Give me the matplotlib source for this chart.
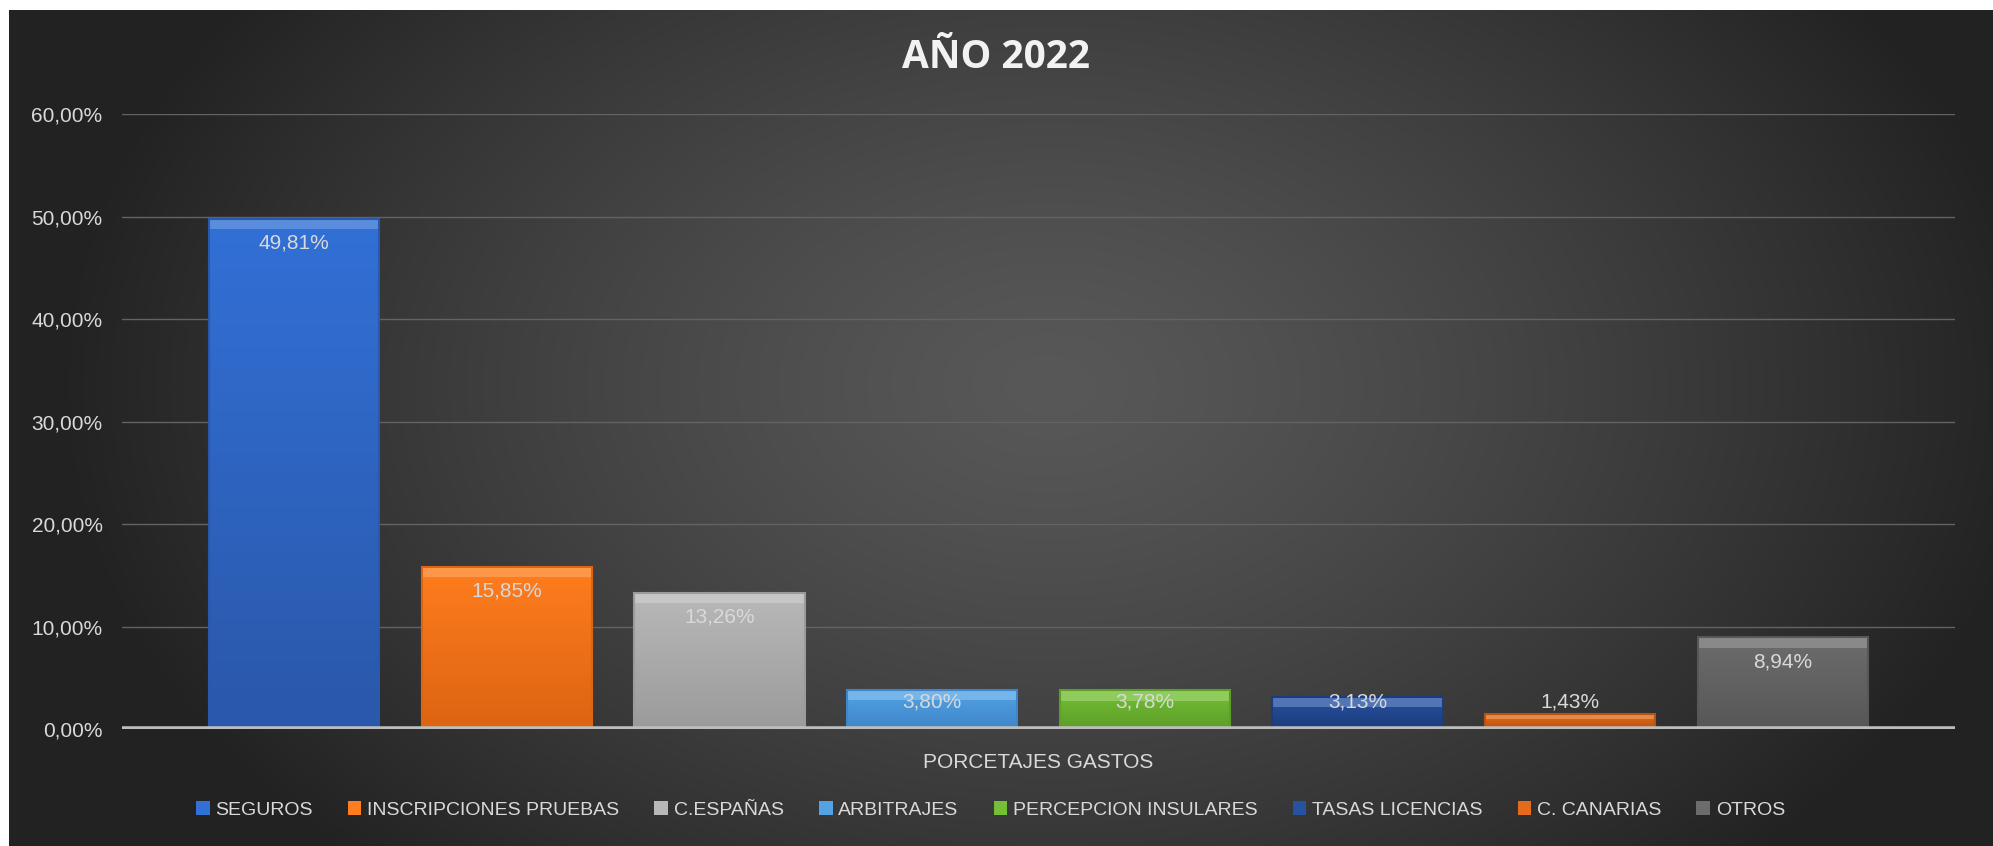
import numpy as np
import matplotlib
matplotlib.use("Agg")
import matplotlib.pyplot as plt

categorias = ["SEGUROS", "INSCRIPCIONES PRUEBAS", "C.ESPAÑAS", "ARBITRAJES",
              "PERCEPCION INSULARES", "TASAS LICENCIAS", "C. CANARIAS", "OTROS"]
valores = [49.81, 15.85, 13.26, 3.80, 3.78, 3.13, 1.43, 8.94]
etiquetas = ["49,81%", "15,85%", "13,26%", "3,80%", "3,78%", "3,13%", "1,43%", "8,94%"]
ticks_y = [0, 10, 20, 30, 40, 50, 60]
ticks_y_txt = ["0,00%", "10,00%", "20,00%", "30,00%", "40,00%", "50,00%", "60,00%"]

# (top, bottom) colours for every bar
colores_top = ["#3270d6", "#ff7d1e", "#b8b8b8", "#52a2e4", "#74bf35", "#2752a2", "#e36b1b", "#6c6c6c"]
colores_bot = ["#2a58aa", "#dc6412", "#9b9b9b", "#3e86c9", "#5d9e29", "#1c3c7c", "#b8520e", "#575757"]

plt.rcParams['font.family'] = ['Liberation Sans', 'DejaVu Sans']
texto = "#d9d9d9"


def aclarar(c, f):
    rgb = np.array(matplotlib.colors.to_rgb(c))
    return tuple(rgb + (1 - rgb) * f)


def main():
    fig = plt.figure(figsize=(19.93, 8.46), dpi=100, facecolor="white")

    # dark background with soft light in the centre
    bg = fig.add_axes([9 / 1993, 0, 1 - 9 / 1993, 836 / 846])
    xx, yy = np.meshgrid(np.linspace(-1, 1, 400), np.linspace(-1, 1, 200))
    r = np.sqrt(((xx - 0.05) / 1.0) ** 2 + ((yy + 0.1) / 1.6) ** 2)
    r = np.clip(r, 0, 1)
    lum = 0.345 - 0.21 * r ** 1.3
    img = np.dstack([lum, lum, lum])
    bg.imshow(img, aspect="auto", extent=[0, 1, 0, 1], interpolation="bilinear")
    bg.axis("off")

    ax = fig.add_axes([0.0612, 0.1383, 0.9198, 0.7264])
    ax.patch.set_alpha(0)
    x = np.arange(len(valores))
    ancho = 0.80
    barras = ax.bar(x, valores, width=ancho, color=colores_top, edgecolor="none", zorder=3)

    for i, b in enumerate(barras):
        v = valores[i]
        grad = np.linspace(0, 1, 50)[:, None]
        c0 = np.array(matplotlib.colors.to_rgb(colores_top[i]))
        c1 = np.array(matplotlib.colors.to_rgb(colores_bot[i]))
        g = c0[None, None, :] * (1 - grad[..., None]) + c1[None, None, :] * grad[..., None]
        g = np.repeat(g, 2, axis=1)
        im = ax.imshow(g, extent=[x[i] - ancho / 2, x[i] + ancho / 2, 0, v],
                       aspect="auto", zorder=3.1, interpolation="bilinear")
        im.set_clip_path(b)
        # bevel on top and sides
        bev = min(1.0, v * 0.35)
        ax.bar(x[i], bev, bottom=v - bev, width=ancho, color=aclarar(colores_top[i], 0.2),
               edgecolor="none", zorder=3.2)
        ax.bar(x[i], v, width=ancho, color="none", edgecolor=colores_bot[i],
               linewidth=1.5, zorder=3.3)

    for i, v in enumerate(valores):
        ax.text(x[i], max(v - 2.36, 2.61), etiquetas[i], ha="center", va="center",
                color=texto, fontsize=15, zorder=5)

    ax.set_xlim(-0.81, len(valores) - 1 + 0.81)
    ax.set_ylim(0, 60)
    ax.set_yticks(ticks_y)
    ax.set_yticklabels(ticks_y_txt)
    ax.tick_params(axis="y", length=0, pad=14, labelsize=15, labelcolor=texto)
    ax.set_xticks([])
    ax.grid(axis="y", color="#636363", linewidth=1, zorder=1)
    for s in ax.spines.values():
        s.set_visible(False)
    ax.axhline(0, color="#bdbdbd", linewidth=4, zorder=4)
    ax.set_xlabel("PORCETAJES GASTOS", color=texto, fontsize=15, labelpad=17)

    fig.text(0.5, 1 - 57 / 846, "AÑO 2022", ha="center", va="center", color="#f2f2f2",
             fontsize=28, fontweight="bold", family=['Open Sans', 'DejaVu Sans'])

    ley = fig.legend(barras, categorias, loc="center", bbox_to_anchor=(0.497, 1 - 810 / 846),
                     ncol=8, frameon=False, fontsize=14, handlelength=0.7, handleheight=0.7,
                     handletextpad=0.3, columnspacing=1.8)
    for t in ley.get_texts():
        t.set_color(texto)

    plt.savefig("out.png", dpi=100, facecolor=fig.get_facecolor())


if __name__ == "__main__":
    main()
